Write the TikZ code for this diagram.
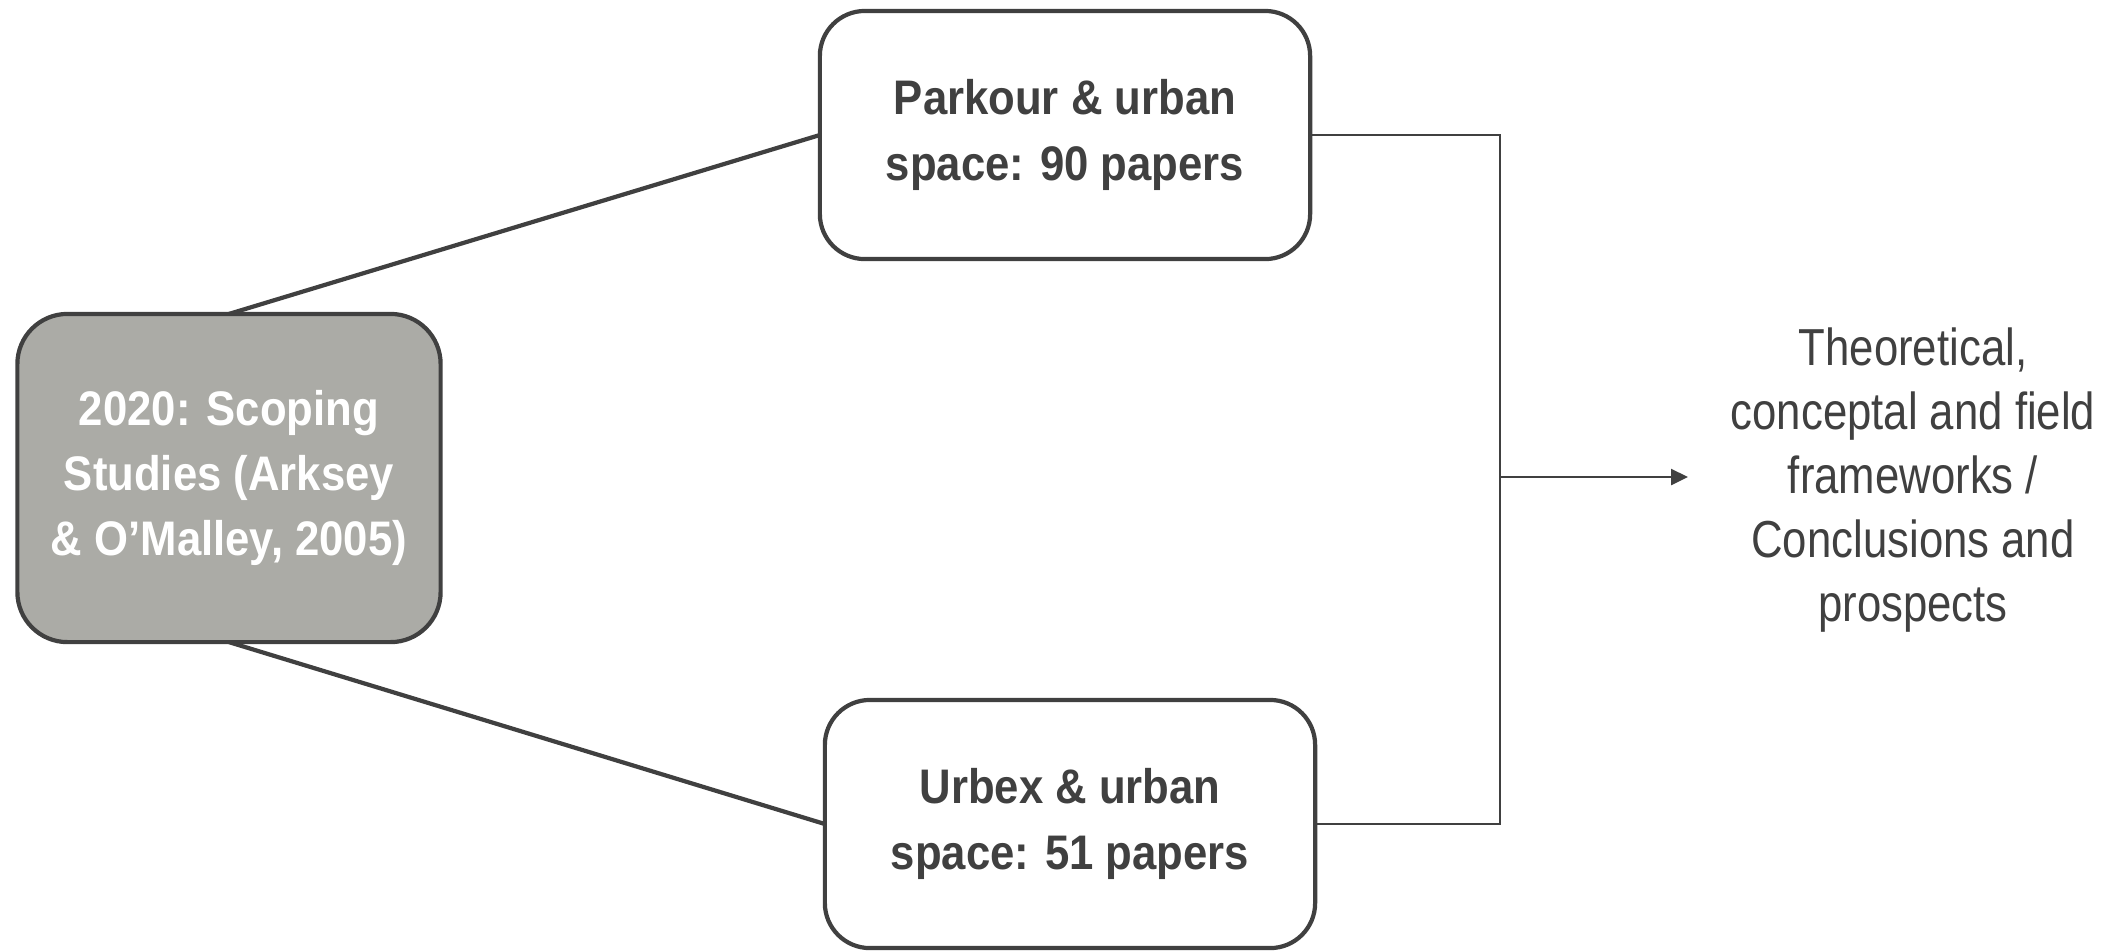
\documentclass[tikz,border=0pt]{standalone}
\usepackage{fontspec}
\setmainfont[FakeStretch=0.84, BoldFeatures={FakeStretch=0.9}]{Liberation Sans}
\usepackage{tikz}
\usetikzlibrary{arrows.meta, positioning}

\definecolor{darkline}{HTML}{404040}
\definecolor{studyfill}{HTML}{ABABA6}

\begin{document}
\begin{tikzpicture}[
        x=0.01cm, y=-0.01cm,
        box/.style={rectangle, draw=darkline, line width=1.2pt, rounded corners=0.45cm, align=center, outer sep=0pt, text=darkline, font=\fontsize{13.8}{19}\selectfont\bfseries},
        sourcebox/.style={box, fill=studyfill, text=white, minimum width=4.23cm, minimum height=3.28cm, rounded corners=0.5cm, font=\fontsize{13.8}{18.5}\selectfont\bfseries},
        paperbox/.style={box, fill=white, minimum width=4.9cm, minimum height=2.48cm},
        resulttext/.style={align=center, text=darkline, font=\fontsize{14.8}{18.2}\selectfont},
        link/.style={draw=darkline, line width=1.2pt},
        joint/.style={draw=darkline, line width=0.7pt},
        arrow/.style={joint, -{Triangle[length=0.17cm, width=0.16cm]}}
    ]
    \useasboundingbox (0,0) rectangle (2117,950);

    % Source
    \node[sourcebox] (study) at (229,478) {2020: Scoping\\Studies (Arksey\\\& O'Malley, 2005)};

    % Paper groups
    \node[paperbox] (parkour) at (1065,135) {Parkour \& urban\\space: 90 papers};
    \node[paperbox] (urbex) at (1070,824) {Urbex \& urban\\space: 51 papers};

    % Result
    \node[resulttext] (result) at (1913,480) {Theoretical,\\conceptal and field\\frameworks /\\Conclusions and\\prospects};

    % Connectors
    \coordinate (merge) at (1500,477);
    \coordinate (tip) at (1688,477);
    \draw[link] (study.north) -- (parkour.west);
    \draw[link] (study.south) -- (urbex.west);
    \draw[joint] (parkour.east) -| (merge) |- (urbex.east);
    \draw[arrow] (merge) -- (tip);

    \end{tikzpicture}
\end{document}
